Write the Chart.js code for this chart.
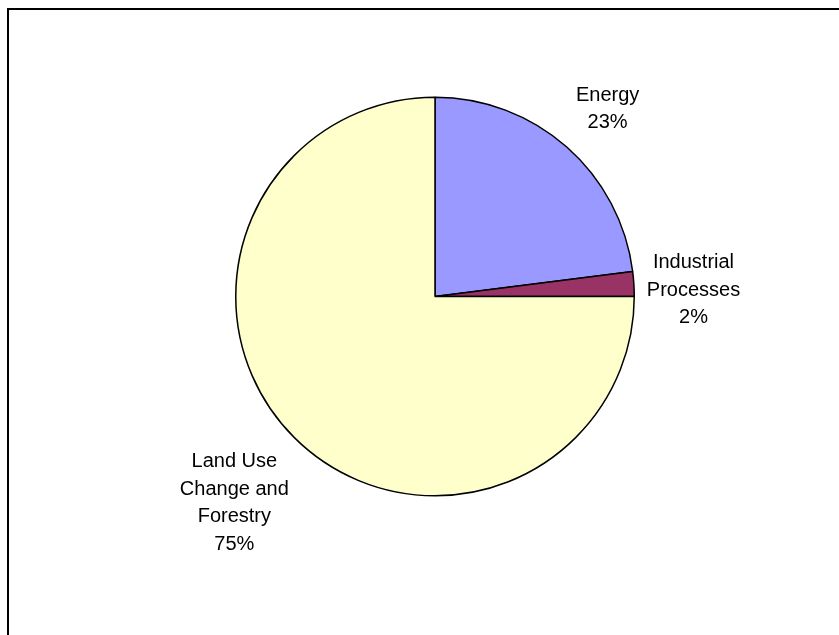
<!DOCTYPE html>
<html>
<head>
<meta charset="utf-8">
<script src="https://cdn.jsdelivr.net/npm/chart.js@4/dist/chart.umd.min.js"></script>
<style>
    html, body { margin: 0; padding: 0; background: #fff; overflow: hidden; }
    #marco {
        position: absolute; left: 7px; top: 8px;
        width: 900px; height: 700px;
        border-top: 2px solid #000; border-left: 2px solid #000;
    }
    #lienzo { position: absolute; left: 0; top: 0; }
</style>
</head>
<body>
<div id="marco"></div>
<canvas id="lienzo" width="839" height="635"></canvas>
<script>
// Datos del gráfico (porcentajes)
const categorias = ['Energy', 'Industrial Processes', 'Land Use Change and Forestry'];
const valores = [23.0, 2.0, 75.0];
const etiquetas = [['Energy', '23%'], ['Industrial', 'Processes', '2%'], ['Land Use', 'Change and', 'Forestry', '75%']];
const colores = ['#9999FF', '#993366', '#FFFFCC'];

// distancia desde el centro y pequeño ajuste de cada etiqueta
const posEtiquetas = [
    { dist: 255, dx: 4, dy: 4 },
    { dist: 258, dx: 1, dy: 10 },
    { dist: 288, dx: 3, dy: 3 }
];

const pluginEtiquetas = {
    id: 'etiquetas',
    afterDatasetsDraw(chart) {
        const ctx = chart.ctx;
        const arcos = chart.getDatasetMeta(0).data;
        ctx.save();
        ctx.font = '20px "Liberation Sans", Arial, sans-serif';
        ctx.fillStyle = '#000';
        ctx.textAlign = 'center';
        ctx.textBaseline = 'middle';
        const alto = 27.5;
        arcos.forEach((arco, i) => {
            const medio = (arco.startAngle + arco.endAngle) / 2;
            const p = posEtiquetas[i];
            const cx = arco.x + Math.cos(medio) * p.dist + p.dx;
            const cy = arco.y + Math.sin(medio) * p.dist + p.dy;
            const lineas = etiquetas[i];
            const y0 = cy - (lineas.length - 1) * alto / 2;
            lineas.forEach((t, j) => ctx.fillText(t, cx, y0 + j * alto));
        });
        ctx.restore();
    }
};

new Chart(document.getElementById('lienzo'), {
    type: 'pie',
    data: {
        labels: categorias,
        datasets: [{
            data: valores,
            backgroundColor: colores,
            borderColor: '#000',
            borderWidth: 1.5
        }]
    },
    options: {
        responsive: false,
        animation: false,
        layout: { padding: { left: 235, right: 204, top: 96.5, bottom: 138.5 } },
        plugins: {
            legend: { display: false },
            tooltip: { enabled: false }
        }
    },
    plugins: [pluginEtiquetas]
});
</script>
</body>
</html>
